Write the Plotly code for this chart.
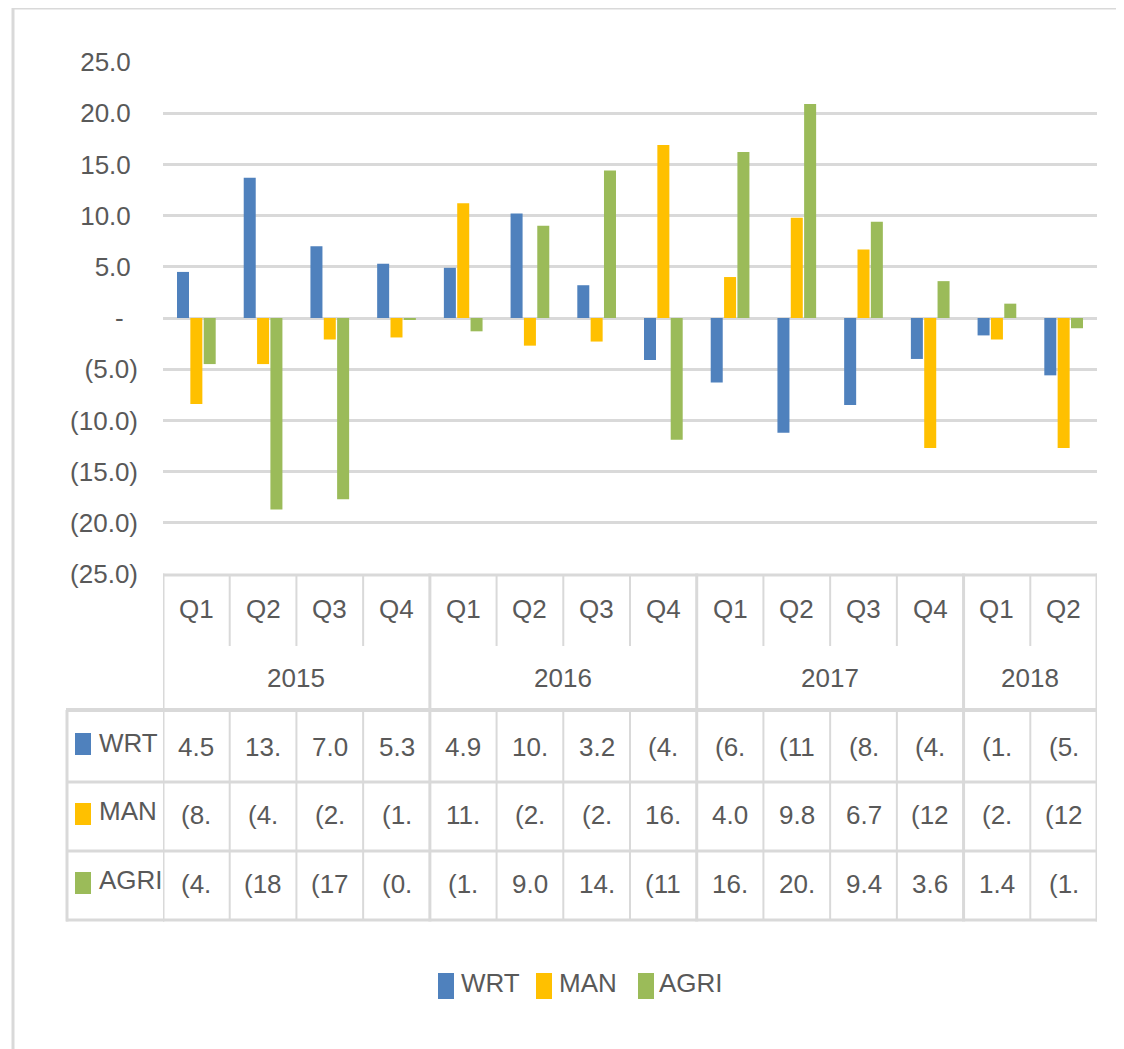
import plotly.graph_objects as go

# ---------------- data ----------------
years = ["2015", "2016", "2017", "2018"]
quarters_per_year = [4, 4, 4, 2]
quarters = ["Q1", "Q2", "Q3", "Q4", "Q1", "Q2", "Q3", "Q4",
            "Q1", "Q2", "Q3", "Q4", "Q1", "Q2"]
series_names = ["WRT", "MAN", "AGRI"]
wrt = [4.5, 13.7, 7.0, 5.3, 4.9, 10.2, 3.2, -4.1, -6.3, -11.2, -8.5, -4.0, -1.7, -5.6]
man = [-8.4, -4.5, -2.1, -1.9, 11.2, -2.7, -2.3, 16.9, 4.0, 9.8, 6.7, -12.7, -2.1, -12.7]
agri = [-4.5, -18.7, -17.7, -0.1, -1.3, 9.0, 14.4, -11.9, 16.2, 20.9, 9.4, 3.6, 1.4, -1.0]
y_ticks = [25, 20, 15, 10, 5, 0, -5, -10, -15, -20, -25]

# ---------------- style ----------------
W, H = 1124, 1049
OFF = 8  # page body margin
colors = ["#4F81BD", "#FFC000", "#9BBB59"]
FONT = "Liberation Sans Narrow, Liberation Sans, Arial, sans-serif"
FS = 26
TXT = "#595959"
GRID = "#D9D9D9"
NB = "\u00a0"


def px(x):
    return (x - OFF) / W


def py(y):
    return 1 - (y - OFF) / H


# year-quarter category keys
year_of = []
for yv, n in zip(years, quarters_per_year):
    year_of += [yv] * n
cats = [f"{yv} {q}" for yv, q in zip(year_of, quarters)]
values = [wrt, man, agri]


def acct(v):
    if abs(v) < 1e-9:
        return "-" + NB * 2
    return f"{v:.1f}" + NB if v > 0 else f"({abs(v):.1f})"


def cell(v):
    s = f"{v:.1f}" if v >= 0 else f"({abs(v):.1f})"
    return s[:3]


fig = go.Figure()
for name, vals, col in zip(series_names, values, colors):
    fig.add_trace(go.Bar(x=cats, y=vals, name=name, marker_color=col,
                         marker_line_width=0, showlegend=False))

shapes = []
ann = []

# outer chart border
shapes.append(dict(type="line", xref="paper", yref="paper", x0=px(12), x1=px(1140),
                   y0=py(8), y1=py(8), line=dict(color=GRID, width=3)))
shapes.append(dict(type="line", xref="paper", yref="paper", x0=px(13), x1=px(13),
                   y0=py(7), y1=py(1060), line=dict(color=GRID, width=3)))

# table geometry (pixel rows)
T_TOP, Q_BOT, YR_BOT, R1, R2, R3 = 575, 646, 710, 782, 851, 920
n = len(cats)
left_b, right_b = -0.5, n - 0.5

# horizontal table lines
shapes.append(dict(type="line", xref="x", yref="paper", x0=left_b, x1=right_b,
                   y0=py(T_TOP), y1=py(T_TOP), line=dict(color=GRID, width=3)))
for yy, wd in [(YR_BOT, 4), (R1, 3), (R2, 3), (R3, 3)]:
    shapes.append(dict(type="line", xref="x", yref="paper", x0=left_b, x1=right_b,
                       y0=py(yy), y1=py(yy), line=dict(color=GRID, width=wd)))
    shapes.append(dict(type="line", xref="paper", yref="paper", x0=px(66), x1=px(164),
                       y0=py(yy), y1=py(yy), line=dict(color=GRID, width=wd)))
# left column border
shapes.append(dict(type="line", xref="paper", yref="paper", x0=px(67), x1=px(67),
                   y0=py(YR_BOT), y1=py(R3 + 1.5), line=dict(color=GRID, width=3)))

# vertical lines
year_bounds = [-0.5]
acc = -0.5
for k in quarters_per_year:
    acc += k
    year_bounds.append(acc)
for i in range(n + 1):
    b = i - 0.5
    if b in year_bounds:
        shapes.append(dict(type="line", xref="x", yref="paper", x0=b, x1=b,
                           y0=py(T_TOP - 1.5), y1=py(R3 + 1.5), line=dict(color=GRID, width=3)))
    else:
        shapes.append(dict(type="line", xref="x", yref="paper", x0=b, x1=b,
                           y0=py(T_TOP), y1=py(Q_BOT), line=dict(color=GRID, width=2)))
        shapes.append(dict(type="line", xref="x", yref="paper", x0=b, x1=b,
                           y0=py(YR_BOT), y1=py(R3), line=dict(color=GRID, width=2)))

tfont = dict(family=FONT, size=FS, color=TXT)

# quarter labels
for i, q in enumerate(quarters):
    ann.append(dict(x=i, y=py(609), xref="x", yref="paper", text=q, showarrow=False,
                    xanchor="center", yanchor="middle", font=tfont))
# year labels
start = 0
for yv, k in zip(years, quarters_per_year):
    ann.append(dict(x=start + (k - 1) / 2, y=py(678), xref="x", yref="paper", text=yv,
                    showarrow=False, xanchor="center", yanchor="middle", font=tfont))
    start += k

# data rows
row_y = [747, 815, 884]
key_y = [744, 814, 883]
for name, vals, col, ry, ky in zip(series_names, values, colors, row_y, key_y):
    for i, v in enumerate(vals):
        ann.append(dict(x=i, y=py(ry), xref="x", yref="paper", text=cell(v), showarrow=False,
                        xanchor="center", yanchor="middle", font=tfont))
    shapes.append(dict(type="rect", xref="paper", yref="paper", x0=px(75), x1=px(91),
                       y0=py(ky - 11), y1=py(ky + 11), fillcolor=col, line=dict(width=0)))
    ann.append(dict(x=px(97), y=py(ry - 4), xref="paper", yref="paper", text=name,
                    showarrow=False, xanchor="left", yanchor="middle", font=tfont))

# bottom legend
leg = [(438, 459), (536, 557), (638, 657)]
for name, col, (kx, tx) in zip(series_names, colors, leg):
    shapes.append(dict(type="rect", xref="paper", yref="paper", x0=px(kx), x1=px(kx + 16),
                       y0=py(999), y1=py(973), fillcolor=col, line=dict(width=0)))
    ann.append(dict(x=px(tx), y=py(983), xref="paper", yref="paper", text=name,
                    showarrow=False, xanchor="left", yanchor="middle", font=tfont))

fig.update_layout(
    width=W, height=H,
    margin=dict(l=0, r=0, t=0, b=0, autoexpand=False),
    paper_bgcolor="white", plot_bgcolor="white",
    barmode="group", bargap=0.4, bargroupgap=0.1,
    showlegend=False,
    shapes=shapes, annotations=ann,
    xaxis=dict(domain=[px(163), px(1097)], type="category", categoryorder="array",
               categoryarray=cats, range=[left_b, right_b], showticklabels=False,
               showgrid=False, zeroline=False, showline=False, ticks="",
               automargin=False),
    yaxis=dict(domain=[py(574), py(62)], range=[-25, 25], tickvals=y_ticks,
               ticktext=[acct(v) for v in y_ticks], showgrid=True, gridcolor=GRID,
               gridwidth=3, zeroline=True, zerolinecolor=GRID, zerolinewidth=3,
               showline=False, ticks="", ticklabelstandoff=24, automargin=False,
               tickfont=dict(family=FONT, size=FS, color=TXT)),
)

fig.write_html("out.html")
